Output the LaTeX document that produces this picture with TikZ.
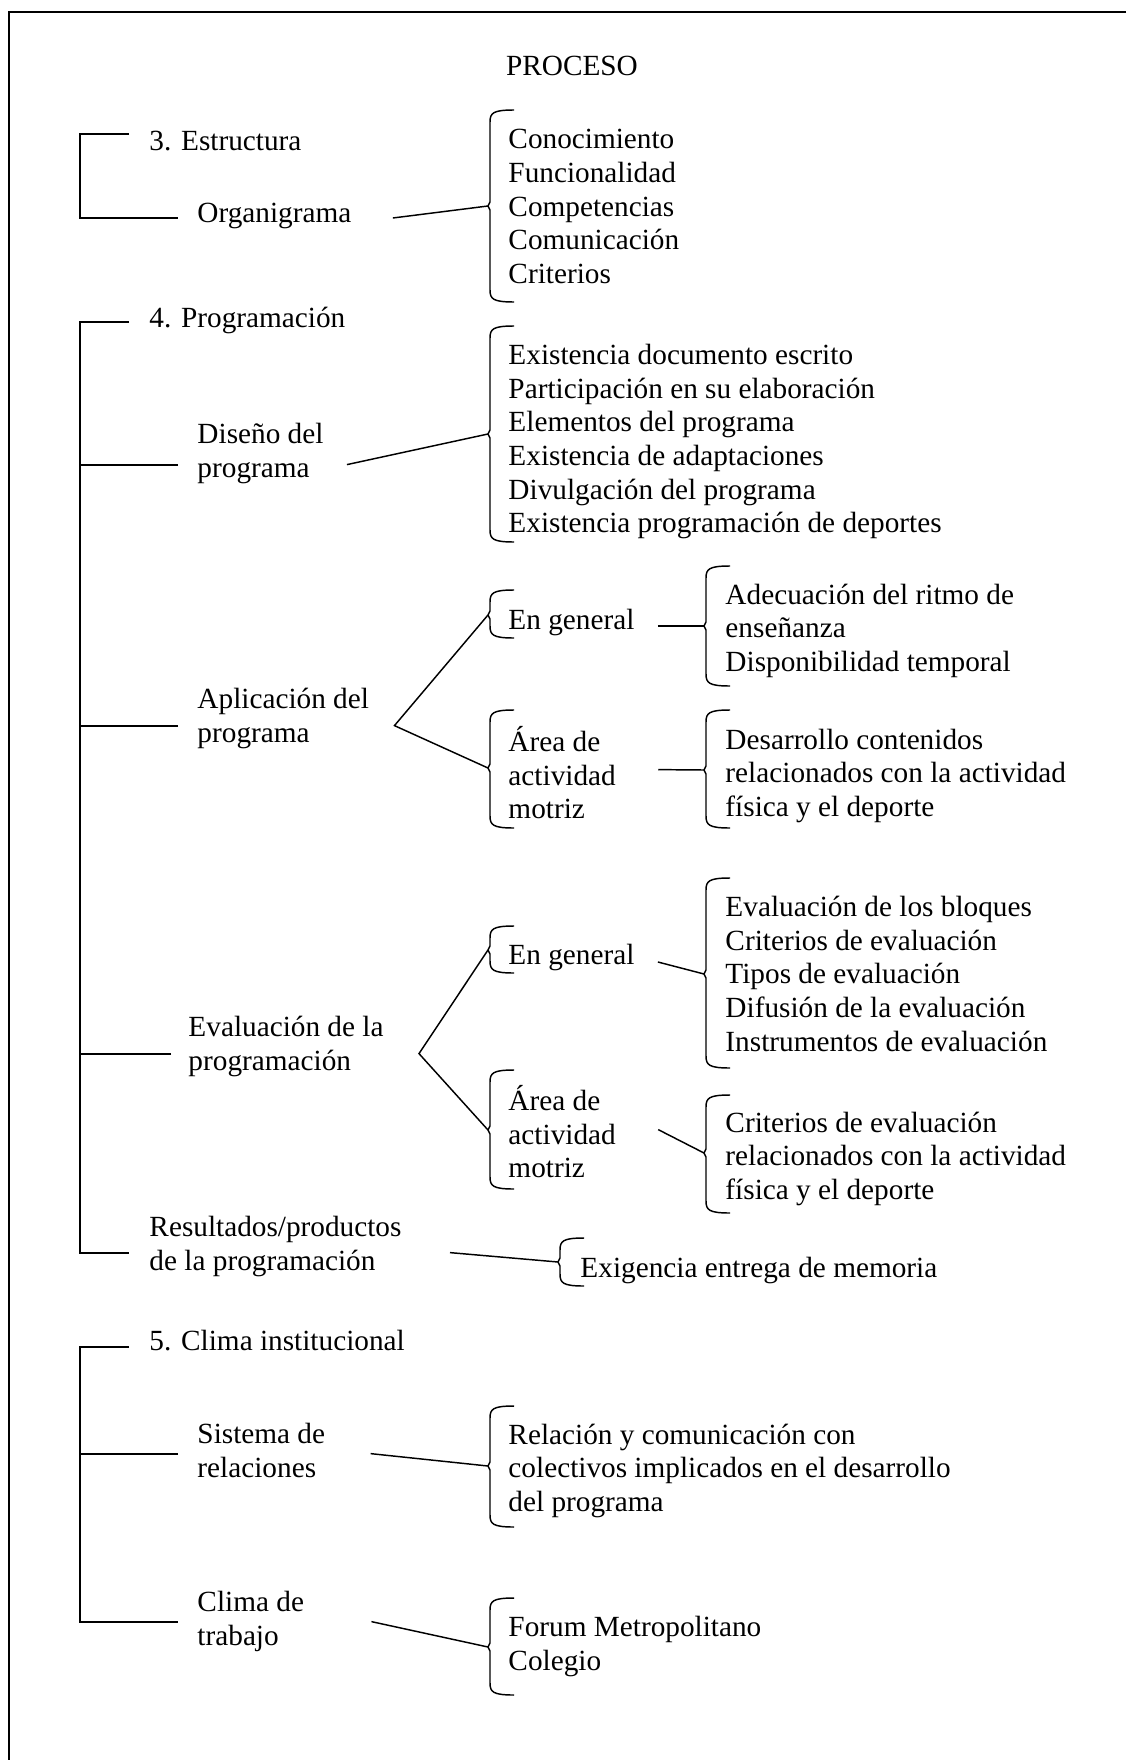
\documentclass[tikz,border=0pt]{standalone}
\usepackage{fontspec}
\setmainfont{Liberation Serif}

% brace to the left of a list: name, x of tip, top, bottom, y of tip
\newcommand{\brak}[5]{%
  \coordinate (#1) at (#2,#5);
  \draw[brk] (#2+26,#3) .. controls (#2+5,#3) and (#2+2,#3+3) .. (#2+2,#3+12)
    -- (#2+2,#5-4) -- (#2,#5) -- (#2+2,#5+4) -- (#2+2,#4-12)
    .. controls (#2+2,#4-3) and (#2+5,#4) .. (#2+26,#4);
}

\tikzset{
  lbl/.style={anchor=west, inner sep=0pt, align=left,
    font=\fontsize{12}{13.8}\selectfont,
    execute at begin node=\rule{0pt}{14.2pt}, execute at end node=\strut},
  mlbl/.style={lbl, yshift=-2.3pt},
  tree/.style={line width=0.8pt},
  link/.style={line width=0.6pt},
  brk/.style={line width=0.6pt, line join=round},
}

\begin{document}
\begin{tikzpicture}[x=0.41pt, y=-0.41pt]
\useasboundingbox (0,0) rectangle (1126,1760);

% marco
\draw[line width=0.8pt] (1126,12) -- (9,12) -- (9,1760);

\node[lbl, anchor=center] (proc) at (572,63) {PROCESO};

% === 3. Estructura ===
\node[lbl] (estr) at (149,138) {3. Estructura};
\node[lbl] (org) at (197,210) {Organigrama};
\draw[tree] ([shift={(-20,-4)}]estr.west) -- ++(-49,0) |- ([shift={(-19,8)}]org.west);

\node[mlbl] (org-l) at (508,206) {Conocimiento\\Funcionalidad\\Competencias\\Comunicación\\Criterios};
\brak{org-b}{488}{110}{302}{206}
\draw[link] ([shift={(41,8)}]org.east) -- (org-b);

% === 4. Programación ===
\node[lbl] (prog) at (149,315) {4. Programación};
\node[mlbl] (dis) at (197,450) {Diseño del\\programa};
\node[mlbl] (apl) at (197,715) {Aplicación del\\programa};
\node[mlbl] (eva) at (188,1043) {Evaluación de la\\programación};
\node[mlbl] (res) at (149,1243) {Resultados/productos\\de la programación};

\draw[tree] ([shift={(-20,7)}]prog.west) -- ++(-49,0) coordinate (sp4)
  |- ([shift={(-20,4)}]res.west);
\foreach \n/\dx/\dy in {dis/19/9, apl/19/5, eva/17/5}
  \draw[tree] ([shift={(-\dx,\dy)}]\n.west) coordinate (t) -- (t -| sp4);

% Diseño
\node[mlbl] (dis-l) at (508,438) {Existencia documento escrito\\Participación en su elaboración\\Elementos del programa\\Existencia de adaptaciones\\Divulgación del programa\\Existencia programación de deportes};
\brak{dis-b}{488}{326}{542}{434}
\draw[link] ([shift={(23,9)}]dis.east) -- (dis-b);

% Aplicación
\node[lbl] (apl-gen) at (508,617) {En general};
\brak{apl-gen-b}{488}{590}{638}{615}
\node[mlbl] (apl-area) at (508,772) {Área de\\actividad\\motriz};
\brak{apl-area-b}{488}{710}{828}{768}
\draw[link] (apl-gen-b) -- ([shift={(25,5)}]apl.east) -- (apl-area-b);

\node[mlbl] (apl-gen-l) at (725,627) {Adecuación del ritmo de\\enseñanza\\Disponibilidad temporal};
\brak{apl-gen-lb}{704}{566}{686}{626}
\draw[link] ([shift={(23,9)}]apl-gen.east) -- (apl-gen-lb);

\node[mlbl] (apl-area-l) at (725,772) {Desarrollo contenidos\\relacionados con la actividad\\física y el deporte};
\brak{apl-area-lb}{704}{710}{828}{770}
\draw[link] ([shift={(42,-8)}]apl-area.east) -- (apl-area-lb);

% Evaluación
\node[lbl] (eva-gen) at (508,952) {En general};
\brak{eva-gen-b}{488}{926}{973}{950}
\node[mlbl] (eva-area) at (508,1131) {Área de\\actividad\\motriz};
\brak{eva-area-b}{488}{1070}{1189}{1130}
\draw[link] (eva-gen-b) -- ([shift={(35,5)}]eva.east) -- (eva-area-b);

\node[mlbl] (eva-gen-l) at (725,973) {Evaluación de los bloques\\Criterios de evaluación\\Tipos de evaluación\\Difusión de la evaluación\\Instrumentos de evaluación};
\brak{eva-gen-lb}{704}{878}{1068}{974}
\draw[link] ([shift={(23,10)}]eva-gen.east) -- (eva-gen-lb);

\node[mlbl] (eva-area-l) at (725,1155) {Criterios de evaluación\\relacionados con la actividad\\física y el deporte};
\brak{eva-area-lb}{704}{1095}{1213}{1153}
\draw[link] ([shift={(42,-7)}]eva-area.east) -- (eva-area-lb);

% Resultados
\node[lbl] (res-l) at (580,1265) {Exigencia entrega de memoria};
\brak{res-b}{558}{1238}{1286}{1262}
\draw[link] ([shift={(48,4)}]res.east) -- (res-b);

% === 5. Clima institucional ===
\node[lbl] (clim) at (149,1338) {5. Clima institucional};
\node[mlbl] (sis) at (197,1450) {Sistema de\\relaciones};
\node[mlbl] (cli) at (197,1618) {Clima de\\trabajo};
\draw[tree] ([shift={(-20,9)}]clim.west) -- ++(-49,0) coordinate (sp5)
  |- ([shift={(-19,-2)}]cli.west);
\draw[tree] ([shift={(-19,-2)}]sis.west) coordinate (t) -- (t -| sp5);

\node[mlbl] (sis-l) at (508,1467) {Relación y comunicación con\\colectivos implicados en el desarrollo\\del programa};
\brak{sis-b}{488}{1406}{1527}{1466}
\draw[link] ([shift={(45,-2)}]sis.east) -- (sis-b);

\node[mlbl] (cli-l) at (508,1643) {Forum Metropolitano\\Colegio};
\brak{cli-b}{488}{1598}{1695}{1647}
\draw[link] ([shift={(67,-2)}]cli.east) -- (cli-b);

\end{tikzpicture}
\end{document}
